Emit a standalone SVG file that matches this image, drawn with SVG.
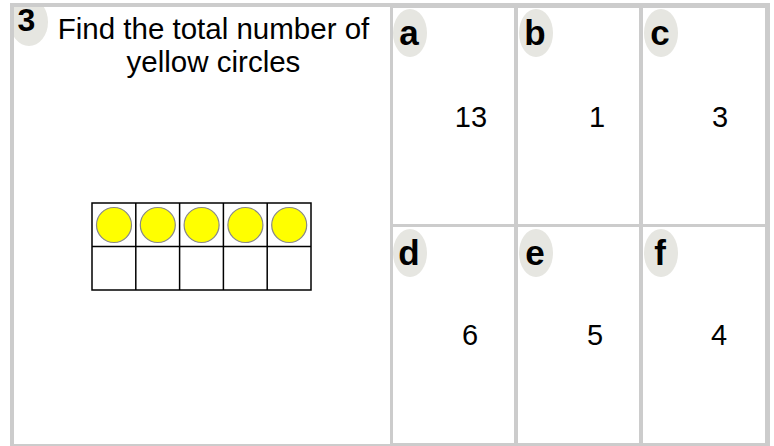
<svg xmlns="http://www.w3.org/2000/svg" width="774" height="446" viewBox="0 0 774 446">
<style>
.frame{fill:#ffffff;stroke:#cccccc;stroke-width:4}
.cell{fill:#ffffff;stroke:#cccccc;stroke-width:3}
.badge{fill:#e6e6e1}
.lbl{font-family:"Liberation Sans",Arial,sans-serif;font-weight:bold;font-size:35px;fill:#000;text-anchor:middle}
.qn{font-family:"Liberation Sans",Arial,sans-serif;font-weight:bold;font-size:32px;fill:#000;text-anchor:middle}
.num{font-family:"Liberation Sans",Arial,sans-serif;font-size:29px;fill:#000;text-anchor:middle}
.title{font-family:"Liberation Sans",Arial,sans-serif;font-size:29.5px;fill:#000;text-anchor:middle}
.tf{fill:#ffffff;stroke:#000;stroke-width:1.5}
.dot{fill:#ffff00;stroke:#888888;stroke-width:1.2}
</style>
<defs>
<clipPath id="lp"><rect x="14" y="7" width="376" height="436"/></clipPath>
</defs>
<rect width="774" height="446" fill="#ffffff"/>
<rect class="frame" x="12" y="5" width="756" height="441"/>
<g id="question">
<g clip-path="url(#lp)"><ellipse class="badge" cx="29" cy="22" rx="19" ry="24"/></g>
<text class="qn" x="26.5" y="31">3</text>
<text class="title" x="213.5" y="39">Find the total number of</text>
<text class="title" x="213.5" y="72">yellow circles</text>
</g>
<g id="tenframe">
<rect class="tf" x="92" y="203" width="219" height="87"/>
<line class="tf" x1="92" y1="246.5" x2="311" y2="246.5"/>
<line class="tf" x1="135.8" y1="203" x2="135.8" y2="290"/>
<line class="tf" x1="179.6" y1="203" x2="179.6" y2="290"/>
<line class="tf" x1="223.4" y1="203" x2="223.4" y2="290"/>
<line class="tf" x1="267.2" y1="203" x2="267.2" y2="290"/>
<circle class="dot" cx="114" cy="225" r="17.5"/>
<circle class="dot" cx="157.8" cy="225" r="17.5"/>
<circle class="dot" cx="201.6" cy="225" r="17.5"/>
<circle class="dot" cx="245.4" cy="225" r="17.5"/>
<circle class="dot" cx="289.2" cy="225" r="17.5"/>
</g>
<g id="cell-a">
<rect class="cell" x="391.5" y="6.5" width="124" height="219"/>
<ellipse class="badge" cx="410" cy="33" rx="17" ry="24"/>
<text class="lbl" x="409" y="45">a</text>
<text class="num" x="471" y="127">13</text>
</g>
<g id="cell-b">
<rect class="cell" x="516.5" y="6.5" width="124" height="219"/>
<ellipse class="badge" cx="536" cy="33" rx="17" ry="24"/>
<text class="lbl" x="535" y="45">b</text>
<text class="num" x="597" y="127">1</text>
</g>
<g id="cell-c">
<rect class="cell" x="641.5" y="6.5" width="125" height="219"/>
<ellipse class="badge" cx="661" cy="33" rx="17" ry="24"/>
<text class="lbl" x="660" y="45">c</text>
<text class="num" x="720" y="127">3</text>
</g>
<g id="cell-d">
<rect class="cell" x="391.5" y="225.5" width="124" height="219"/>
<ellipse class="badge" cx="410" cy="253" rx="17" ry="24"/>
<text class="lbl" x="409" y="265">d</text>
<text class="num" x="470" y="345">6</text>
</g>
<g id="cell-e">
<rect class="cell" x="516.5" y="225.5" width="124" height="219"/>
<ellipse class="badge" cx="536" cy="253" rx="17" ry="24"/>
<text class="lbl" x="535" y="265">e</text>
<text class="num" x="595" y="345">5</text>
</g>
<g id="cell-f">
<rect class="cell" x="641.5" y="225.5" width="125" height="219"/>
<ellipse class="badge" cx="661" cy="253" rx="17" ry="24"/>
<text class="lbl" x="660" y="265">f</text>
<text class="num" x="719" y="345">4</text>
</g>
</svg>
